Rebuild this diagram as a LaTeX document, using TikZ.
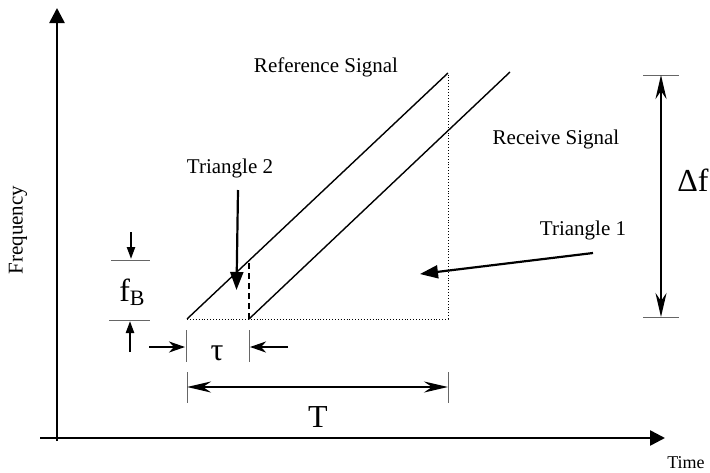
\documentclass[tikz,border=0pt]{standalone}
\usepackage{fontspec}
\setmainfont{Liberation Serif}
\usetikzlibrary{arrows.meta}
\begin{document}
\begin{tikzpicture}[x=1pt,y=-1pt,
  axis/.style={line width=2.6pt,-{Triangle[length=15pt,width=15pt]}},
  sig/.style={line width=1.4pt},
  guide/.style={line width=0.9pt,dotted},
  tick/.style={line width=1pt,black!60},
  dim/.style={line width=2.6pt,{Stealth[length=24pt,width=11pt,inset=8pt]}-{Stealth[length=24pt,width=11pt,inset=8pt]}},
  oneway/.style={line width=2.4pt,-{Stealth[length=16pt,width=11pt,inset=5pt]}},
  ptr/.style={line width=2.2pt,-{Triangle[length=18pt,width=13pt]}},
  small/.style={line width=2.2pt,-{Triangle[length=12pt,width=8pt]}},
  lbl/.style={font=\fontsize{21}{24}\selectfont,inner sep=0pt},
  big/.style={font=\fontsize{32}{36}\selectfont,inner sep=0pt}]
\useasboundingbox (0,0) rectangle (710,472);
% axes
\coordinate (yo) at (57,441);
\coordinate (yt) at (57,8);
\coordinate (xo) at (40,438);
\coordinate (xt) at (665,438);
\draw[axis] (yo) -- (yt);
\draw[axis] (xo) -- (xt);
\node[lbl,rotate=90] (freq) at (18,230) {Frequency};
\node[lbl,font=\fontsize{18}{22}\selectfont] (time) at (686,463) {Time};
% signals
\coordinate (r0) at (187,319);
\coordinate (r1) at (448,73);
\coordinate (s0) at (249,319);
\coordinate (s1) at (510,72);
\coordinate (c) at (448,319);
\coordinate (d1) at (249,260.6);
\draw[sig] (r0) -- (r1);
\draw[sig] (s0) -- (s1);
\draw[guide] (r0) -- (c) -- (r1);
\draw[line width=1.6pt,dash pattern=on 6pt off 4pt] (s0) -- (d1);
\node[lbl] (refl) at (326,67) {Reference Signal};
\node[lbl] (recl) at (556,139) {Receive Signal};
\node[lbl] (t2l) at (230,168) {Triangle 2};
\node[lbl] (t1l) at (583,230) {Triangle 1};
% triangle pointers
\coordinate (t2a) at (238,190);
\coordinate (t2b) at (236.5,290);
\draw[ptr] (t2a) -- (t2b);
\coordinate (t1a) at (593,253);
\coordinate (t1b) at (420,274);
\draw[ptr] (t1a) -- (t1b);
% delta f
\coordinate (df0) at (661,75);
\coordinate (df1) at (661,317);
\coordinate (dfa) at (643,75);
\coordinate (dfb) at (679,75);
\coordinate (dfc) at (643,317);
\coordinate (dfd) at (679,317);
\draw[tick] (dfa) -- (dfb);
\draw[tick] (dfc) -- (dfd);
\draw[dim] (df0) -- (df1);
\node[big] (dfl) at (693,180) {Δf};
% T
\coordinate (T0) at (187,387);
\coordinate (T1) at (448,387);
\coordinate (Ta) at (187,372);
\coordinate (Tb) at (187,403);
\coordinate (Tc) at (448,372);
\coordinate (Td) at (448,403);
\draw[tick] (Ta) -- (Tb);
\draw[tick] (Tc) -- (Td);
\draw[dim] (T0) -- (T1);
\node[big] (Tl) at (318,417) {T};
% tau
\coordinate (ua) at (186,330);
\coordinate (ub) at (186,362);
\coordinate (uc) at (249,330);
\coordinate (ud) at (249,362);
\draw[tick] (ua) -- (ub);
\draw[tick] (uc) -- (ud);
\coordinate (u0) at (149,347);
\coordinate (u1) at (185,347);
\coordinate (u2) at (288,347);
\coordinate (u3) at (250,347);
\draw[oneway] (u0) -- (u1);
\draw[oneway] (u2) -- (u3);
\node[big] (taul) at (217,353) {τ};
% f_B
\coordinate (fa) at (111,260);
\coordinate (fb) at (150,260);
\coordinate (fc) at (109,320);
\coordinate (fd) at (150,320);
\draw[tick] (fa) -- (fb);
\draw[tick] (fc) -- (fd);
\coordinate (f0) at (131,232);
\coordinate (f1) at (131,259);
\coordinate (f2) at (130,352);
\coordinate (f3) at (130,321);
\draw[small] (f0) -- (f1);
\draw[small] (f2) -- (f3);
\node[big] (fbl) at (132,292) {f\raisebox{-0.25ex}{\fontsize{22}{24}\selectfont B}};
\end{tikzpicture}
\end{document}
